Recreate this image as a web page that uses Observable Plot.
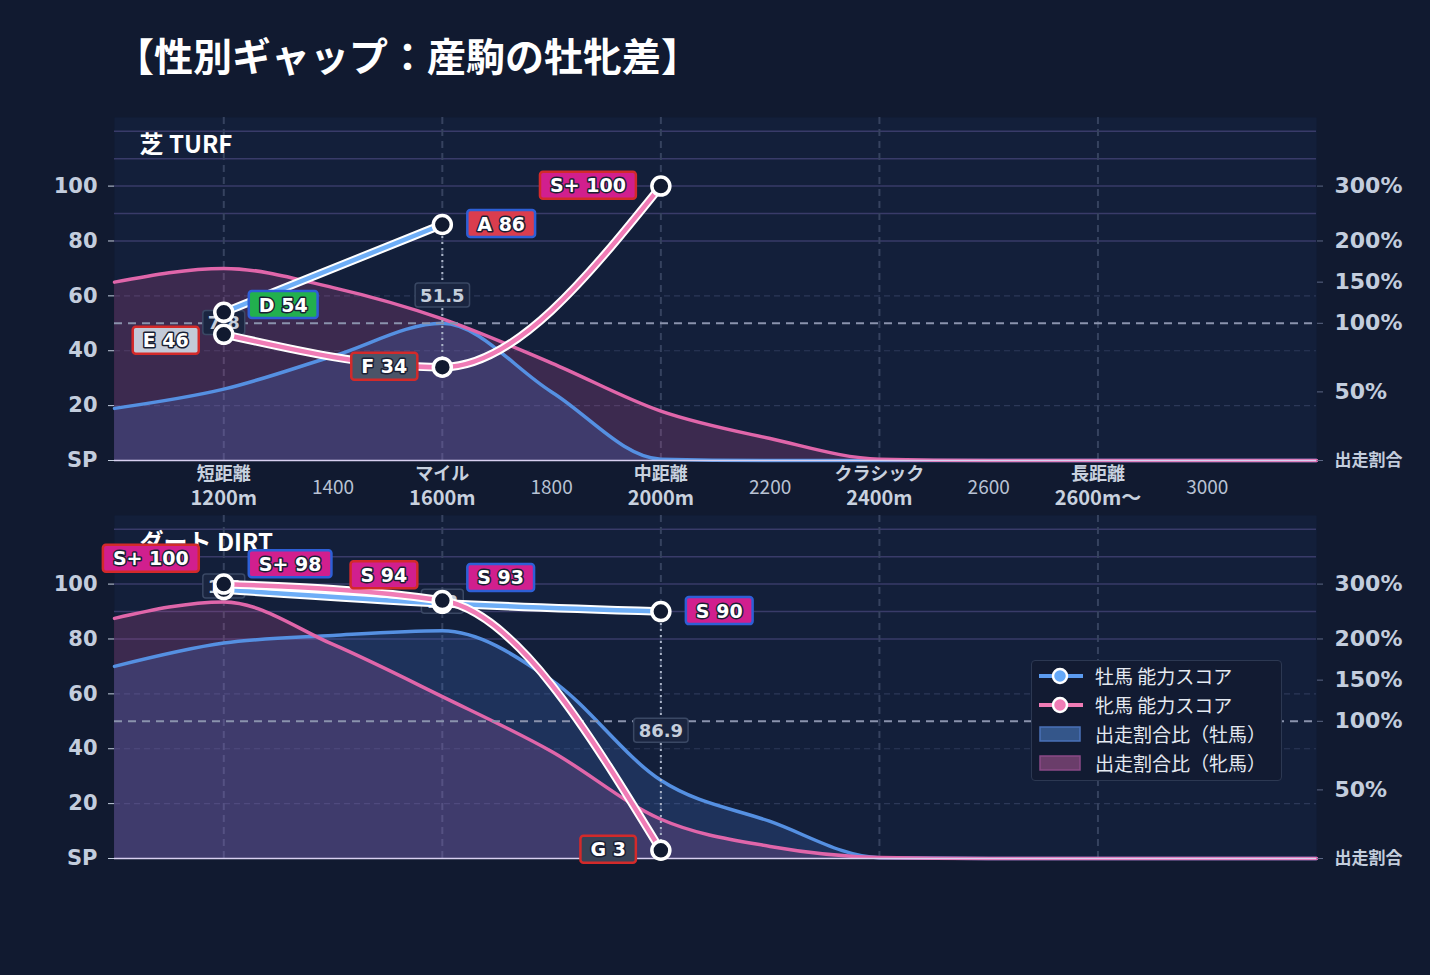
<!DOCTYPE html>
<html>
<head>
<meta charset="utf-8">
<script src="https://cdn.jsdelivr.net/npm/d3@7"></script>
<script src="https://cdn.jsdelivr.net/npm/@observablehq/plot@0.6"></script>
<style>
  html, body { margin: 0; padding: 0; }
  body { width: 1430px; height: 975px; background: #111a30; position: relative; overflow: hidden; font-family: "Noto Sans CJK JP", sans-serif; }
  #title { position: absolute; left: 115px; top: 29px; color: #ffffff; font-size: 39px; font-weight: 700; line-height: 50px; white-space: nowrap; }
  .panel { position: absolute; left: 0; }
  #legend { position: absolute; left: 1031px; top: 660px; width: 249px; height: 119px; background: #121b32; border: 1.5px solid #2c3852; border-radius: 4px; }
  #legend .row { position: absolute; left: 0; height: 29px; }
  #legend svg { position: absolute; left: 5px; }
  #legend span { position: absolute; left: 63px; color: #e4e9f1; font-size: 19px; white-space: nowrap; line-height: 29px; top: -15px; }
</style>
</head>
<body>
<div id="title"></div>
<div id="top" class="panel" style="top:90px"></div>
<div id="bottom" class="panel" style="top:500px"></div>
<div id="legend"></div>
<script>
// ---------- data ----------
const chartTitle = "【性別ギャップ：産駒の牡牝差】";
const distanceCategories = [1200, 1600, 2000, 2400, 2800];
const categoryNames = ["短距離", "マイル", "中距離", "クラシック", "長距離"];
const categoryDistanceLabels = ["1200m", "1600m", "2000m", "2400m", "2600m〜"];
const minorDistanceTicks = [1400, 1800, 2200, 2600, 3000];
const leftTickValues = [0, 20, 40, 60, 80, 100];
const leftTickLabels = ["SP", "20", "40", "60", "80", "100"];
const rightTickValues = [0, 25, 50, 65, 80, 100];
const rightTickLabels = ["出走割合", "50%", "100%", "150%", "200%", "300%"];

// share (出走割合比) curves, sampled every 200m
const shareDistances = [1000, 1200, 1400, 1600, 1800, 2000, 2200, 2400, 2600, 2800, 3000, 3200];
const turfMaleShare   = [19, 26, 38, 50, 25, 0.5, 0, 0, 0, 0, 0, 0];
const turfFemaleShare = [65, 70, 63, 51.6, 35.5, 18, 8, 0.5, 0, 0, 0, 0];
const dirtMaleShare   = [70, 78.5, 81.3, 83, 65, 28.5, 13.5, 0.3, 0, 0, 0, 0];
const dirtFemaleShare = [87.5, 93.5, 78, 59, 39, 14.3, 4.4, 0.4, 0, 0, 0, 0];

// ability scores per category (null = no data)
const turfMaleScore   = [54, 86, null, null, null];
const turfMaleGrade   = ["D", "A", null, null, null];
const turfFemaleScore = [46, 34, 100, null, null];
const turfFemaleGrade = ["E", "F", "S+", null, null];
const turfGap         = [7.8, 51.5, null, null, null];

const dirtMaleScore   = [98, 93, 90, null, null];
const dirtMaleGrade   = ["S+", "S", "S", null, null];
const dirtFemaleScore = [100, 94, 3, null, null];
const dirtFemaleGrade = ["S+", "S", "G", null, null];
const dirtGap         = [1.7, 1.2, 86.9, null, null];

const panelTitles = ["芝 TURF", "ダート DIRT"];
const legendLabels = ["牡馬 能力スコア", "牝馬 能力スコア", "出走割合比（牡馬）", "出走割合比（牝馬）"];

// ---------- styles ----------
const gradeFill = {"S+": "#d11f8e", "S": "#d11f8e", "A": "#da3d4e", "B": "#e8892f", "C": "#d2b02b", "D": "#22b04e", "E": "#c3cad8", "F": "#4a5468", "G": "#384357"};
const maleColor = "#6eaef7", femaleColor = "#f07cb6";
const maleArea = "#4a80e0", femaleArea = "#d0509a";
const maleAreaLine = "#5590e2", femaleAreaLine = "#e066aa";
const numFont = '"DejaVu Sans", "Noto Sans CJK JP", sans-serif';
const cjkFont = '"Noto Sans CJK JP", sans-serif';
const UNIT_PX = 343 / 125;

document.getElementById("title").textContent = chartTitle;

function labelOffsets(m, f) {
  if (m == null || f == null) return [0, 0];
  const diff = Math.abs(m - f);
  if (diff < 3) return [25 / UNIT_PX, 25 / UNIT_PX];
  const minSep = 13;
  if (diff < minSep) {
    const push = (minSep - diff) / 2;
    return m > f ? [push, -push] : [-push, push];
  }
  return [0, 0];
}

function buildPanel(cfg) {
  const curve = "monotone-x";
  const share = shareDistances.map((d, i) => ({d, m: cfg.maleShare[i], f: cfg.femaleShare[i]}));
  const males = [], females = [], gaps = [];
  distanceCategories.forEach((d, i) => {
    const m = cfg.maleScore[i], f = cfg.femaleScore[i];
    const [om, of] = labelOffsets(m, f);
    if (m != null) males.push({d, v: m, g: cfg.maleGrade[i], ly: m + om});
    if (f != null) females.push({d, v: f, g: cfg.femaleGrade[i], ly: f + of});
    if (m != null && f != null && cfg.gap[i] != null) gaps.push({d, m, f, g: cfg.gap[i]});
  });
  const cats = distanceCategories.map((d, i) => ({d, name: categoryNames[i], dist: categoryDistanceLabels[i]}));
  const rights = rightTickValues.map((v, i) => ({v, t: rightTickLabels[i]}));

  const marks = [
    Plot.frame({fill: "#131f3a", stroke: "none"}),
    Plot.ruleY([80, 90, 100, 110, 120], {stroke: "#393b69", strokeWidth: 1.5}),
    Plot.ruleY([20, 40, 60], {stroke: "#2c3858", strokeWidth: 1.2, strokeDasharray: "6,4"}),
    Plot.ruleX(distanceCategories, {stroke: "#36425f", strokeWidth: 2, strokeDasharray: "7,5"}),
    Plot.areaY(share, {x: "d", y: "f", fill: femaleArea, fillOpacity: 0.22, curve}),
    Plot.areaY(share, {x: "d", y: "m", fill: maleArea, fillOpacity: 0.2, curve}),
    Plot.line(share, {x: "d", y: "m", stroke: maleAreaLine, strokeWidth: 3.5, curve}),
    Plot.line(share, {x: "d", y: "f", stroke: femaleAreaLine, strokeWidth: 3.5, curve}),
    Plot.ruleY([0], {stroke: "#d8d0f0", strokeWidth: 1.3}),
    Plot.ruleY([50], {stroke: "#8a93ad", strokeWidth: 2, strokeDasharray: "8,6"}),
    Plot.axisY({anchor: "left", ticks: leftTickValues, tickFormat: v => leftTickLabels[leftTickValues.indexOf(v)], tickSize: 6, tickPadding: 11, fontSize: 21, fontWeight: "bold", fontFamily: numFont, color: "#c3cddd", label: null}),
    Plot.axisY({anchor: "right", ticks: rightTickValues, tickFormat: () => "", tickSize: 6, color: "#5c6784", label: null}),
    Plot.text(rights, {y: "v", text: "t", frameAnchor: "right", dx: 18, textAnchor: "start", fill: "#c3cddd", fontWeight: "bold", fontFamily: numFont, fontSize: d => d.v === 0 ? 17 : 22}),
    Plot.text([cfg.title], {frameAnchor: "top-left", dx: 25, dy: 28, lineAnchor: "middle", textAnchor: "start", fill: "#ffffff", fontSize: 24, fontWeight: "bold", fontFamily: cjkFont})
  ];
  if (cfg.xLabels) {
    marks.push(
      Plot.text(cats, {x: "d", y: 0, text: "name", dy: 14, fill: "#c8d1df", fontSize: 18, fontWeight: "bold", fontFamily: cjkFont}),
      Plot.text(cats, {x: "d", y: 0, text: "dist", dy: 38, fill: "#c8d1df", fontSize: 20, fontWeight: "bold", fontFamily: cjkFont}),
      Plot.text(minorDistanceTicks, {x: d => d, y: 0, text: d => String(d), dy: 27, fill: "#b8c2d4", fontSize: 19, fontFamily: cjkFont})
    );
  }
  marks.push(
    Plot.ruleX(gaps, {x: "d", y1: "m", y2: "f", stroke: "#aab3c7", strokeWidth: 2, strokeDasharray: "2,4"}),
    Plot.text(gaps, {x: "d", y: d => (d.m + d.f) / 2, text: d => d.g.toFixed(1), fill: "#c5cedc", fontSize: 18, fontWeight: "bold", fontFamily: numFont, ariaDescription: "gap-label"}),
    Plot.line(males, {x: "d", y: "v", stroke: "#ffffff", strokeWidth: 8.5, curve}),
    Plot.line(males, {x: "d", y: "v", stroke: maleColor, strokeWidth: 4.5, curve}),
    Plot.line(females, {x: "d", y: "v", stroke: "#ffffff", strokeWidth: 8.5, curve}),
    Plot.line(females, {x: "d", y: "v", stroke: femaleColor, strokeWidth: 4.5, curve}),
    Plot.dot(males, {x: "d", y: "v", r: 9, fill: "#111a30", stroke: "#ffffff", strokeWidth: 3.5}),
    Plot.dot(females, {x: "d", y: "v", r: 9, fill: "#111a30", stroke: "#ffffff", strokeWidth: 3.5}),
    Plot.text(males, {x: "d", y: "ly", text: d => `${d.g} ${d.v}`, dx: 35, textAnchor: "start", fill: "#ffffff", stroke: "#1a1f33", strokeWidth: 3, fontSize: 19, fontWeight: "bold", fontFamily: numFont, ariaDescription: "male-label"}),
    Plot.text(females, {x: "d", y: "ly", text: d => `${d.g} ${d.v}`, dx: -35, textAnchor: "end", fill: "#ffffff", stroke: "#1a1f33", strokeWidth: 3, fontSize: 19, fontWeight: "bold", fontFamily: numFont, ariaDescription: "female-label"})
  );

  const svg = Plot.plot({
    width: 1430, height: cfg.height,
    marginLeft: 114, marginRight: 114, marginTop: cfg.marginTop, marginBottom: cfg.marginBottom,
    x: {domain: [1000, 3200], axis: null},
    y: {domain: [0, 125], axis: null},
    style: {background: "transparent", color: "#c3cddd", fontFamily: numFont, overflow: "visible"},
    marks
  });
  document.getElementById(cfg.host).appendChild(svg);
  addBoxes(svg, "gap-label", gaps.map(() => ({fill: "#1a2540", stroke: "#3a4864", sw: 1.5})), 5, 1.5);
  addBoxes(svg, "male-label", males.map(d => ({fill: gradeFill[d.g], stroke: "#2e5fd6", sw: 2.5})), 10, 2.5);
  addBoxes(svg, "female-label", females.map(d => ({fill: gradeFill[d.g], stroke: "#d32a2a", sw: 2.5})), 10, 2.5);
}

function addBoxes(svg, label, styles, padX, padY) {
  let texts = [];
  svg.querySelectorAll(`[aria-description="${label}"], [aria-label="${label}"]`).forEach(el => {
    if (el.tagName.toLowerCase() === "text") texts.push(el);
    else el.querySelectorAll("text").forEach(t => texts.push(t));
  });
  texts.forEach((t, i) => {
    const b = t.getBBox();
    const s = styles[i] || styles[0];
    const r = document.createElementNS("http://www.w3.org/2000/svg", "rect");
    r.setAttribute("x", b.x - padX);
    r.setAttribute("y", b.y - padY);
    r.setAttribute("width", b.width + 2 * padX);
    r.setAttribute("height", b.height + 2 * padY);
    r.setAttribute("rx", 3);
    r.setAttribute("fill", s.fill);
    r.setAttribute("stroke", s.stroke);
    r.setAttribute("stroke-width", s.sw);
    r.setAttribute("paint-order", "normal");
    if (t.getAttribute("transform")) r.setAttribute("transform", t.getAttribute("transform"));
    t.parentNode.insertBefore(r, t);
  });
}

buildPanel({host: "top", title: panelTitles[0], maleShare: turfMaleShare, femaleShare: turfFemaleShare,
  maleScore: turfMaleScore, maleGrade: turfMaleGrade, femaleScore: turfFemaleScore, femaleGrade: turfFemaleGrade, gap: turfGap,
  height: 425, marginTop: 27, marginBottom: 55, xLabels: true});
buildPanel({host: "bottom", title: panelTitles[1], maleShare: dirtMaleShare, femaleShare: dirtFemaleShare,
  maleScore: dirtMaleScore, maleGrade: dirtMaleGrade, femaleScore: dirtFemaleScore, femaleGrade: dirtFemaleGrade, gap: dirtGap,
  height: 420, marginTop: 15, marginBottom: 62, xLabels: false});

// legend
const legendSymbols = [
  {type: "line", color: "#5b9bf0", dot: "#64a8f8"},
  {type: "line", color: "#f07cb6", dot: "#f07cb6"},
  {type: "rect", fill: "#34568a", stroke: "#4a72b8"},
  {type: "rect", fill: "#6a3d6a", stroke: "#8a4a86"}
];
const legend = d3.select("#legend");
legendLabels.forEach((lab, i) => {
  const row = legend.append("div").attr("class", "row").style("top", (15 + i * 29) + "px");
  const s = legendSymbols[i];
  const svg = row.append("svg").attr("width", 50).attr("height", 22).style("top", "-11px");
  if (s.type === "line") {
    svg.append("line").attr("x1", 2).attr("x2", 46).attr("y1", 11).attr("y2", 11).attr("stroke", s.color).attr("stroke-width", 4);
    svg.append("circle").attr("cx", 23).attr("cy", 11).attr("r", 7).attr("fill", s.dot).attr("stroke", "#ffffff").attr("stroke-width", 2.5);
  } else {
    svg.append("rect").attr("x", 3).attr("y", 4).attr("width", 40).attr("height", 14).attr("fill", s.fill).attr("stroke", s.stroke).attr("stroke-width", 1.5);
  }
  row.append("span").text(lab);
});
</script>
</body>
</html>
